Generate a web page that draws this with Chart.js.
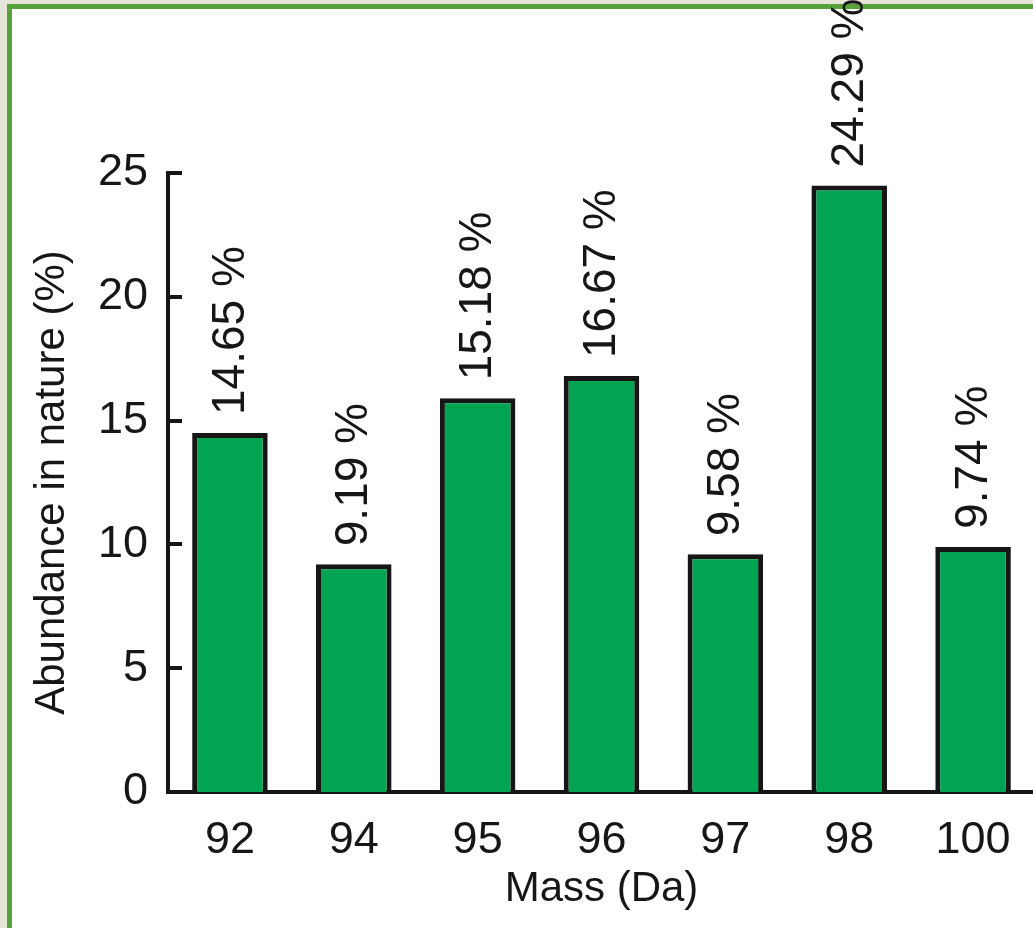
<!DOCTYPE html>
<html>
<head>
<meta charset="utf-8">
<script src="https://cdn.jsdelivr.net/npm/chart.js@4"></script>
<style>
  html, body { margin: 0; padding: 0; overflow: hidden; width: 1033px; height: 928px; background: #e6e3d9; }
  #frame { position: absolute; left: 7px; top: 4px; width: 1040px; height: 940px; background: #ffffff;
           border-left: 5px solid #58a23c; border-top: 5px solid #58a23c; }
  #abundanceChart { position: absolute; left: 0; top: 0; }
</style>
</head>
<body>
<div id="frame"></div>
<canvas id="abundanceChart" width="1040" height="928"></canvas>
<script>
// isotope masses (Da) and bar heights as drawn in the figure
const masses = ['92', '94', '95', '96', '97', '98', '100'];
const abundance = [14.5, 9.2, 15.9, 16.8, 9.6, 24.5, 9.9];
// printed percentage above each bar
const pctLabels = ['14.65 %', '9.19 %', '15.18 %', '16.67 %', '9.58 %', '24.29 %', '9.74 %'];
const yMin = 0, yMax = 25, yStep = 5;

const FONT = "'Liberation Sans', Arial, Helvetica, sans-serif";
const INK = '#161616';

// short tick marks pointing into the plot, plus rotated value labels
const decorations = {
    id: 'decorations',
    afterDatasetsDraw(chart) {
        const ctx = chart.ctx;
        const y = chart.scales.y;
        const x0 = chart.chartArea.left;
        ctx.save();
        ctx.strokeStyle = INK;
        ctx.lineWidth = 4;
        y.ticks.forEach(t => {
            if (t.value === yMin) return;
            const py = Math.round(y.getPixelForValue(t.value));
            ctx.beginPath();
            ctx.moveTo(x0 - 2, py);
            ctx.lineTo(x0 + 14, py);
            ctx.stroke();
        });

        ctx.fillStyle = INK;
        ctx.font = `46px ${FONT}`;
        ctx.textAlign = 'left';
        ctx.textBaseline = 'middle';
        chart.getDatasetMeta(0).data.forEach((bar, i) => {
            ctx.save();
            ctx.translate(bar.x + 1, bar.y - 18);
            ctx.rotate(-Math.PI / 2);
            ctx.fillText(pctLabels[i], 0, 0);
            ctx.restore();
        });
        ctx.restore();
    }
};

new Chart(document.getElementById('abundanceChart'), {
    type: 'bar',
    data: {
        labels: masses,
        datasets: [{
            data: abundance,
            backgroundColor: '#00a452',
            borderColor: INK,
            borderWidth: 5,
            borderSkipped: 'bottom',
            barPercentage: 0.61,
            categoryPercentage: 1
        }]
    },
    options: {
        responsive: false,
        animation: false,
        devicePixelRatio: 1,
        layout: { padding: { top: 173, right: 5, left: 0, bottom: 0 } },
        plugins: { legend: { display: false }, tooltip: { enabled: false } },
        scales: {
            x: {
                grid: { display: false, drawTicks: false },
                border: { display: true, color: INK, width: 4 },
                ticks: { color: INK, font: { family: FONT, size: 45 }, padding: 22 },
                title: { display: true, text: 'Mass (Da)', color: INK,
                         font: { family: FONT, size: 42 }, padding: { top: 0, bottom: 13 } },
                afterFit: s => { s.height = 136; }
            },
            y: {
                min: yMin,
                max: yMax,
                grid: { display: false, drawTicks: false },
                border: { display: true, color: INK, width: 4 },
                ticks: { stepSize: yStep, color: INK, font: { family: FONT, size: 45 }, padding: 20 },
                title: { display: true, text: 'Abundance in nature (%)', color: INK,
                         font: { family: FONT, size: 42 }, padding: { top: 27, bottom: 0 } },
                afterFit: s => { s.width = 168; }
            }
        }
    },
    plugins: [decorations]
});
</script>
</body>
</html>
